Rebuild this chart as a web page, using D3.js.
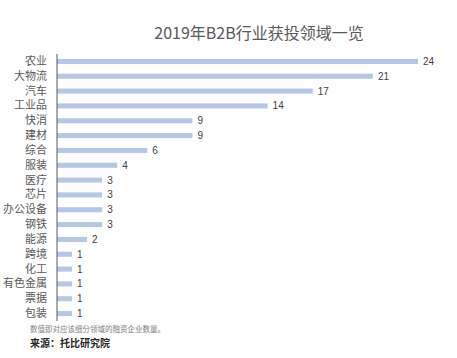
<!DOCTYPE html>
<html>
<head>
<meta charset="utf-8">
<script src="https://cdn.jsdelivr.net/npm/d3@7"></script>
<style>
  body { margin: 0; background: #fff; }
  svg { display: block; font-family: "Noto Sans CJK SC", "Liberation Sans", sans-serif; }
</style>
</head>
<body>
<div id="chart"></div>
<script>
// ----- Data -----
const categories = ["农业", "大物流", "汽车", "工业品", "快消", "建材", "综合", "服装", "医疗",
  "芯片", "办公设备", "钢铁", "能源", "跨境", "化工", "有色金属", "票据", "包装"];
const counts = [24, 21, 17, 14, 9, 9, 6, 4, 3, 3, 3, 3, 2, 1, 1, 1, 1, 1];
const titleText = "2019年B2B行业获投领域一览";
const noteText = "数值即对应该细分领域的融资企业数量。";
const sourceText = "来源：托比研究院";

// ----- Layout -----
const W = 457, H = 358;
const AXIS_X = 57, TOP = 54, BOTTOM = 321;
const BAR_COLOR = "#b4c7e7";

const svg = d3.select("#chart").append("svg")
  .attr("width", W).attr("height", H);

const x = d3.scaleLinear().domain([0, 24]).range([AXIS_X, 418]);
const y = d3.scaleBand().domain(categories).range([TOP, BOTTOM]).paddingInner(0.66).paddingOuter(0.33);

// title
svg.append("text")
  .attr("x", 259).attr("y", 39)
  .attr("text-anchor", "middle")
  .attr("fill", "#595959")
  .attr("font-size", 16)
  .text(titleText);

// bars
svg.append("g").selectAll("rect")
  .data(categories)
  .join("rect")
  .attr("x", x(0))
  .attr("y", d => y(d))
  .attr("width", (d, i) => x(counts[i]) - x(0))
  .attr("height", y.bandwidth())
  .attr("fill", BAR_COLOR);

// value labels
svg.append("g").selectAll("text")
  .data(categories)
  .join("text")
  .attr("x", (d, i) => x(counts[i]) + 5)
  .attr("y", d => y(d) + y.bandwidth() / 2)
  .attr("dy", "0.35em")
  .attr("font-family", "'Liberation Sans', Arial, sans-serif")
  .attr("font-size", 10)
  .attr("fill", "#404040")
  .text((d, i) => counts[i]);

// category axis
const yAxis = svg.append("g")
  .attr("transform", `translate(${AXIS_X},0)`)
  .call(d3.axisLeft(y).tickSize(0).tickPadding(10));
yAxis.select(".domain").attr("stroke", "#595959").attr("stroke-width", 1)
  .attr("d", `M0,${TOP}V${BOTTOM}`);
yAxis.selectAll("text")
  .attr("font-family", "'Noto Sans CJK SC', sans-serif")
  .attr("font-size", 11)
  .attr("fill", "#595959");

// footnotes
svg.append("text")
  .attr("x", 30).attr("y", 332)
  .attr("font-size", 7.5)
  .attr("fill", "#808080")
  .text(noteText);
svg.append("text")
  .attr("x", 30).attr("y", 347)
  .attr("font-size", 10)
  .attr("font-weight", "bold")
  .attr("fill", "#262626")
  .text(sourceText);
</script>
</body>
</html>
